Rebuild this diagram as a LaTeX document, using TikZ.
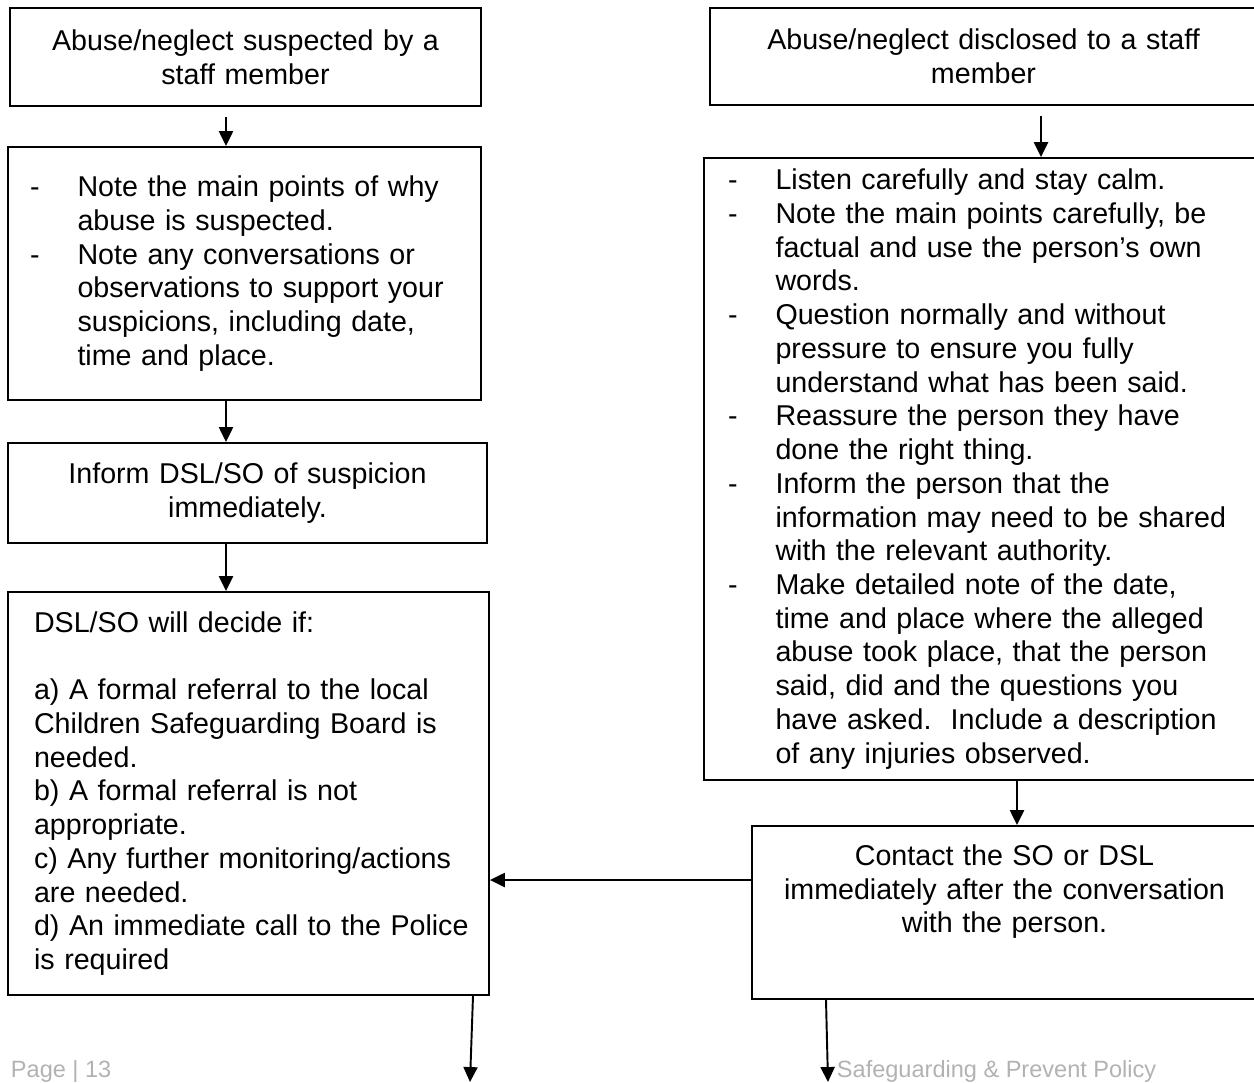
\documentclass[tikz,border=0pt]{standalone}
\usepackage{fontspec}
\setmainfont{Liberation Sans}
\usepackage{tikz}
\usetikzlibrary{arrows.meta}
\definecolor{footergrey}{RGB}{178,178,178}
\newcommand\boxwd{1.1pt}
\newcommand\dashgap{0.95cm}
\newcommand\dashitem{\makebox[\dashgap][l]{-}}
\newcommand\carryon{\hspace*{\dashgap}}
\newcommand\boxfont{\fontsize{16.3pt}{19.2pt}\selectfont\hyphenpenalty=10000\exhyphenpenalty=10000}
\tikzset{>={Triangle[length=8.5pt,width=8pt]}}
\tikzstyle{flowbox}   = [draw, rectangle, line width=\boxwd, inner sep=0pt, font=\boxfont]
\tikzstyle{centrebox} = [flowbox, align=center]
\tikzstyle{listbox}   = [flowbox, align=left]
\tikzstyle{footer}    = [color=footergrey, inner sep=0pt, font=\fontsize{13.4pt}{16pt}\selectfont]

\begin{document}
\begin{tikzpicture}[x=0.02cm, y=-0.02cm, line width=\boxwd]
  \useasboundingbox (0,0) rectangle (1254,1082);
  % columns and rows the connectors run along
  \coordinate (colA) at (226,0);
  \coordinate (colB) at (1041,0);
  \coordinate (colC) at (1017,0);
  \coordinate (rowD) at (0,880);
  \coordinate (footA) at (473,0);
  \coordinate (footB) at (826,0);
  \coordinate (outA) at (470,1082);
  \coordinate (outB) at (828,1082);
  % suspected
  \draw (245.5,57) node (sus1) [centrebox, minimum width=9.42cm, minimum height=1.96cm, text width=9cm]
    {Abuse/neglect suspected by a\\staff member};
  \draw (244.5,273.5) node (sus2) [listbox, minimum width=9.46cm, minimum height=5.06cm, text width=8.58cm]
    {\dashitem Note the main points of why\\
     \carryon abuse is suspected.\\
     \dashitem Note any conversations or\\
     \carryon observations to support your\\
     \carryon suspicions, including date,\\
     \carryon time and place.};
  \draw (247.5,493) node (sus3) [centrebox, minimum width=9.58cm, minimum height=2cm, text width=9cm]
    {Inform DSL/SO of suspicion\\immediately.};
  \draw (248.5,793.5) node (decide) [listbox, minimum width=9.62cm, minimum height=8.06cm, text width=8.58cm]
    {DSL/SO will decide if:\\
     \mbox{}\\
     a) A formal referral to the local\\
     Children Safeguarding Board is\\
     needed.\\
     b) A formal referral is not\\
     appropriate.\\
     \mbox{c) Any further monitoring/actions}\\
     are needed.\\
     \mbox{d) An immediate call to the Police}\\
     is required};
  % disclosed
  \draw (983.5,56.5) node (dis1) [centrebox, minimum width=10.94cm, minimum height=1.94cm, text width=10.4cm]
    {Abuse/neglect disclosed to a staff\\member};
  \draw (985.5,469) node (dis2) [listbox, minimum width=11.26cm, minimum height=12.44cm, text width=10.3cm]
    {\dashitem Listen carefully and stay calm.\\
     \dashitem Note the main points carefully, be\\
     \carryon factual and use the person’s own\\
     \carryon words.\\
     \dashitem Question normally and without\\
     \carryon pressure to ensure you fully\\
     \carryon understand what has been said.\\
     \dashitem Reassure the person they have\\
     \carryon done the right thing.\\
     \dashitem Inform the person that the\\
     \carryon information may need to be shared\\
     \carryon with the relevant authority.\\
     \dashitem Make detailed note of the date,\\
     \carryon time and place where the alleged\\
     \carryon abuse took place, that the person\\
     \carryon said, did and the questions you\\
     \carryon have asked.\ \ Include a description\\
     \carryon of any injuries observed.};
  \draw (1004.5,912.5) node (contact) [centrebox, minimum width=10.1cm, minimum height=3.46cm, text width=9.6cm]
    {Contact the SO or DSL\\immediately after the conversation\\with the person.\\[0.28cm]\mbox{}};
  % page footer
  \draw (10,1077) node (pagenum) [footer, anchor=base west] {Page | 13};
  \draw (836,1077) node (policy) [footer, anchor=base west] {Safeguarding \& Prevent Policy};
  % connectors
  \draw (sus1.south -| colA) -- (sus2.north -| colA) [->, shorten <=0.2cm];
  \draw (sus2.south -| colA) -- (sus3.north -| colA) [->];
  \draw (sus3.south -| colA) -- (decide.north -| colA) [->];
  \draw (dis1.south -| colB) -- (dis2.north -| colB) [->, shorten <=0.2cm];
  \draw (dis2.south -| colC) -- (contact.north -| colC) [->];
  \draw (contact.west |- rowD) -- (decide.east |- rowD) [->];
  \draw (decide.south -| footA) -- (outA) [->];
  \draw (contact.south -| footB) -- (outB) [->];
\end{tikzpicture}
\end{document}
